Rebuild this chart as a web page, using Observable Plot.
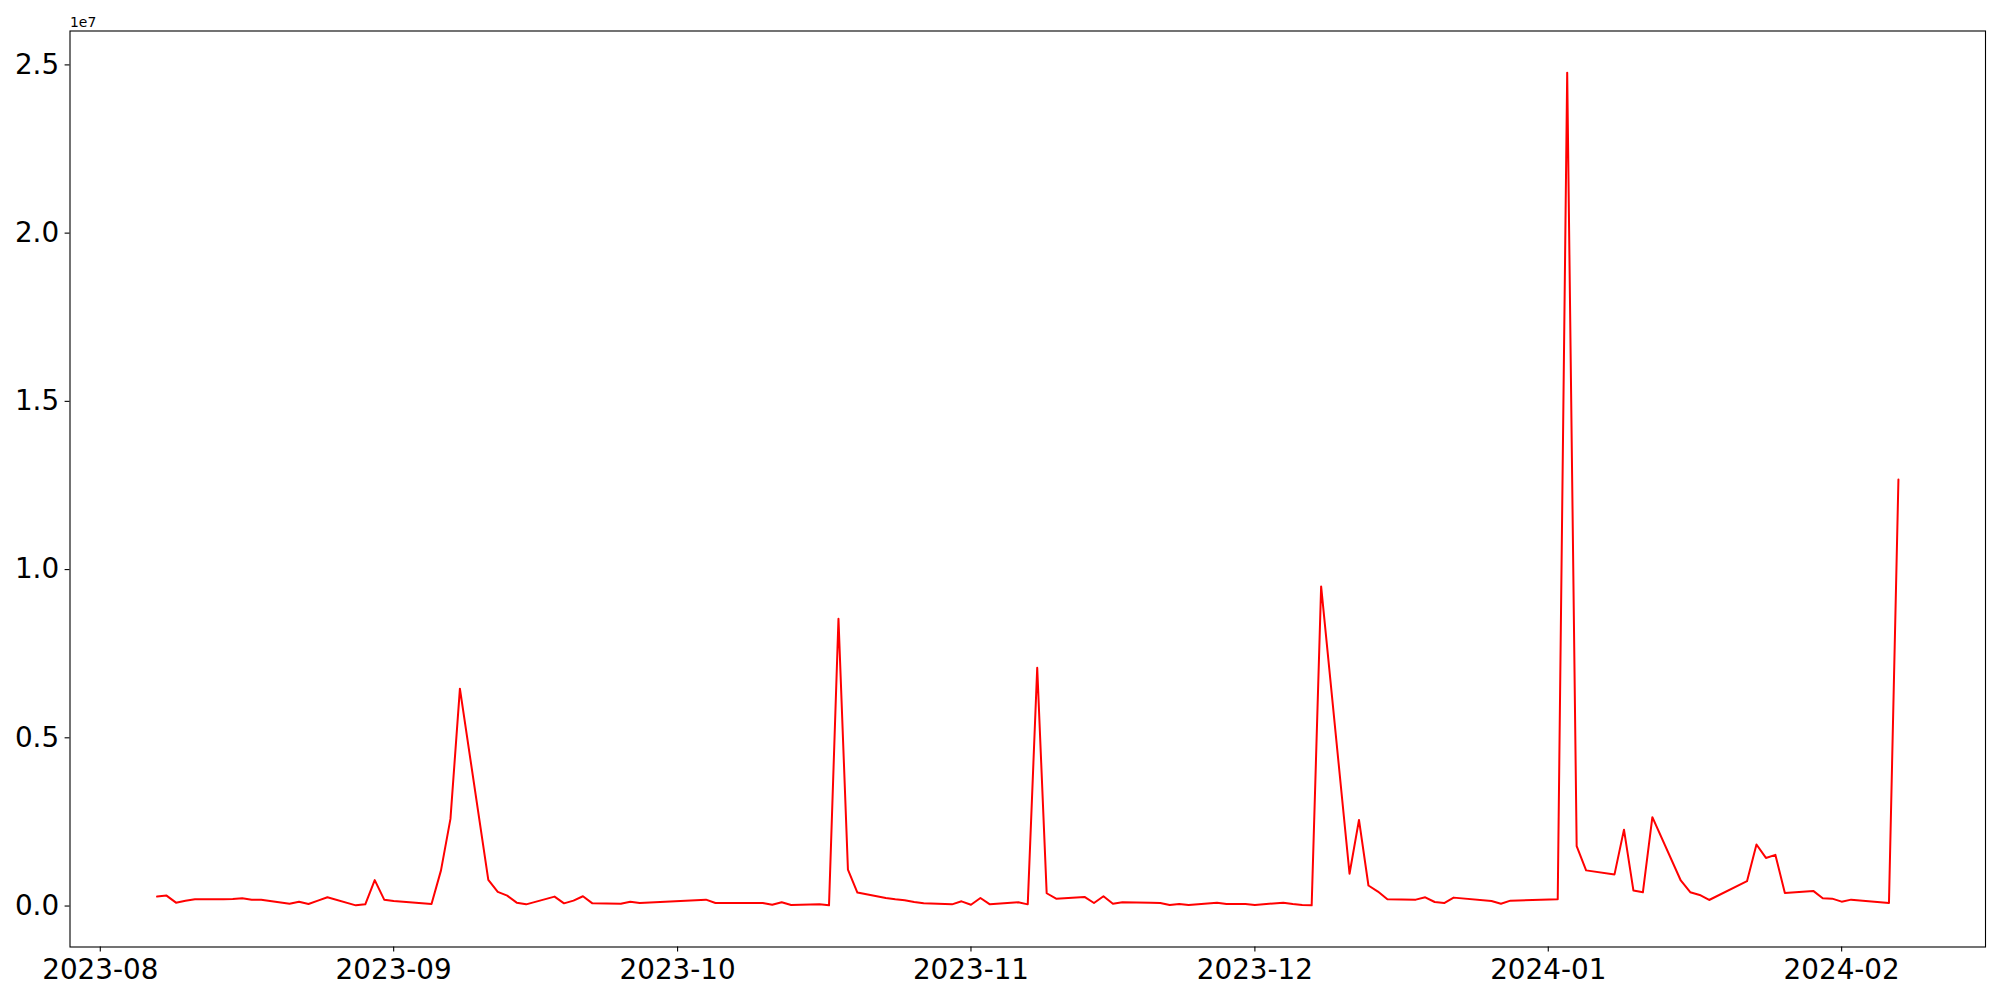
<!DOCTYPE html>
<html><head><meta charset="utf-8">
<script src="https://cdn.jsdelivr.net/npm/d3@7"></script>
<script src="https://cdn.jsdelivr.net/npm/@observablehq/plot@0.6"></script>
<style>html,body{margin:0;padding:0;background:#fff;} svg{display:block}</style>
</head><body><div id="chart"></div>
<script>
const dates = [
"2023-08-07","2023-08-08","2023-08-09","2023-08-10","2023-08-11","2023-08-14","2023-08-15","2023-08-16","2023-08-17","2023-08-18",
"2023-08-21","2023-08-22","2023-08-23","2023-08-24","2023-08-25","2023-08-28","2023-08-29","2023-08-30","2023-08-31","2023-09-01",
"2023-09-05","2023-09-06","2023-09-07","2023-09-08","2023-09-11","2023-09-12","2023-09-13","2023-09-14","2023-09-15",
"2023-09-18","2023-09-19","2023-09-20","2023-09-21","2023-09-22","2023-09-25","2023-09-26","2023-09-27",
"2023-10-04","2023-10-05","2023-10-06","2023-10-09","2023-10-10","2023-10-11","2023-10-12","2023-10-13",
"2023-10-16","2023-10-17","2023-10-18","2023-10-19","2023-10-20","2023-10-23","2023-10-24","2023-10-25","2023-10-26","2023-10-27",
"2023-10-30","2023-10-31","2023-11-01","2023-11-02","2023-11-03","2023-11-06","2023-11-07","2023-11-08","2023-11-09","2023-11-10",
"2023-11-13","2023-11-14","2023-11-15","2023-11-16","2023-11-17","2023-11-20","2023-11-21","2023-11-22","2023-11-23","2023-11-24",
"2023-11-27","2023-11-28","2023-11-29","2023-11-30","2023-12-01","2023-12-04","2023-12-05","2023-12-06","2023-12-07","2023-12-08",
"2023-12-11","2023-12-12","2023-12-13","2023-12-14","2023-12-15","2023-12-18","2023-12-19","2023-12-20","2023-12-21","2023-12-22",
"2023-12-26","2023-12-27","2023-12-28","2024-01-02","2024-01-03","2024-01-04","2024-01-05",
"2024-01-08","2024-01-09","2024-01-10","2024-01-11","2024-01-12","2024-01-15","2024-01-16","2024-01-17","2024-01-18",
"2024-01-22","2024-01-23","2024-01-24","2024-01-25","2024-01-26","2024-01-29","2024-01-30","2024-01-31","2024-02-01","2024-02-02",
"2024-02-06","2024-02-07"
];
const values = [
280000,310000,100000,160000,200000,200000,210000,230000,190000,190000,
70000,130000,60000,160000,260000,20000,50000,770000,190000,150000,
60000,1060000,2590000,6460000,780000,420000,310000,100000,50000,
280000,80000,160000,290000,80000,70000,130000,90000,
190000,90000,90000,90000,90000,40000,110000,30000,
50000,20000,8540000,1080000,400000,240000,200000,170000,120000,80000,
50000,140000,40000,240000,50000,110000,50000,7080000,380000,220000,
270000,90000,290000,70000,110000,100000,90000,30000,60000,30000,
100000,60000,60000,60000,30000,100000,60000,30000,20000,9500000,
960000,2560000,610000,430000,200000,190000,260000,120000,90000,250000,
150000,70000,160000,200000,24770000,1780000,1060000,
940000,2270000,460000,410000,2640000,760000,410000,330000,180000,
740000,1830000,1430000,1520000,390000,450000,230000,220000,130000,190000,
90000,12680000
];
const xTickDates = ["2023-08-01","2023-09-01","2023-10-01","2023-11-01","2023-12-01","2024-01-01","2024-02-01"];
const xTickLabels = ["2023-08","2023-09","2023-10","2023-11","2023-12","2024-01","2024-02"];
const yTicks = [0, 5000000, 10000000, 15000000, 20000000, 25000000];
const yTickLabels = ["0.0","0.5","1.0","1.5","2.0","2.5"];
const offsetLabel = "1e7";

const parse = d3.utcParse("%Y-%m-%d");
const data = dates.map((d, i) => ({date: parse(d), value: values[i]}));
const xt = xTickDates.map(parse);

const [x0, x1] = d3.extent(data, d => d.date);
const xp = (x1 - x0) * 0.05;
const [y0, y1] = d3.extent(data, d => d.value);
const yp = (y1 - y0) * 0.05;

const fontFamily = "DejaVu Sans";
const chart = Plot.plot({
  width: 2000,
  height: 1000,
  marginLeft: 69.5,
  marginRight: 15,
  marginTop: 30.5,
  marginBottom: 53.5,
  style: {fontFamily, fontSize: "27.8px", background: "white", color: "black", overflow: "visible"},
  x: {type: "utc", domain: [new Date(+x0 - xp), new Date(+x1 + xp)]},
  y: {domain: [y0 - yp, y1 + yp]},
  marks: [
    Plot.lineY(data, {x: "date", y: "value", stroke: "red", strokeWidth: 2}),
    Plot.frame({stroke: "black", strokeWidth: 1.1}),
    Plot.axisX({
      ticks: xt, label: null, tickSize: 4.9, tickPadding: 7, strokeWidth: 1.1, stroke: "black", fill: "black",
      fontSize: 27.8,
      tickFormat: d => xTickLabels[xt.findIndex(t => +t === +d)]
    }),
    Plot.axisY({
      ticks: yTicks, label: null, tickSize: 4.9, tickPadding: 6, strokeWidth: 1.1, stroke: "black", fill: "black",
      fontSize: 27.8,
      tickFormat: d => yTickLabels[yTicks.indexOf(d)]
    }),
    Plot.text([offsetLabel], {frameAnchor: "top-left", text: d => d, textAnchor: "start", lineAnchor: "bottom", dy: -4, fontSize: 13.9, fill: "black"})
  ]
});
document.getElementById("chart").appendChild(chart);
</script>
</body></html>
